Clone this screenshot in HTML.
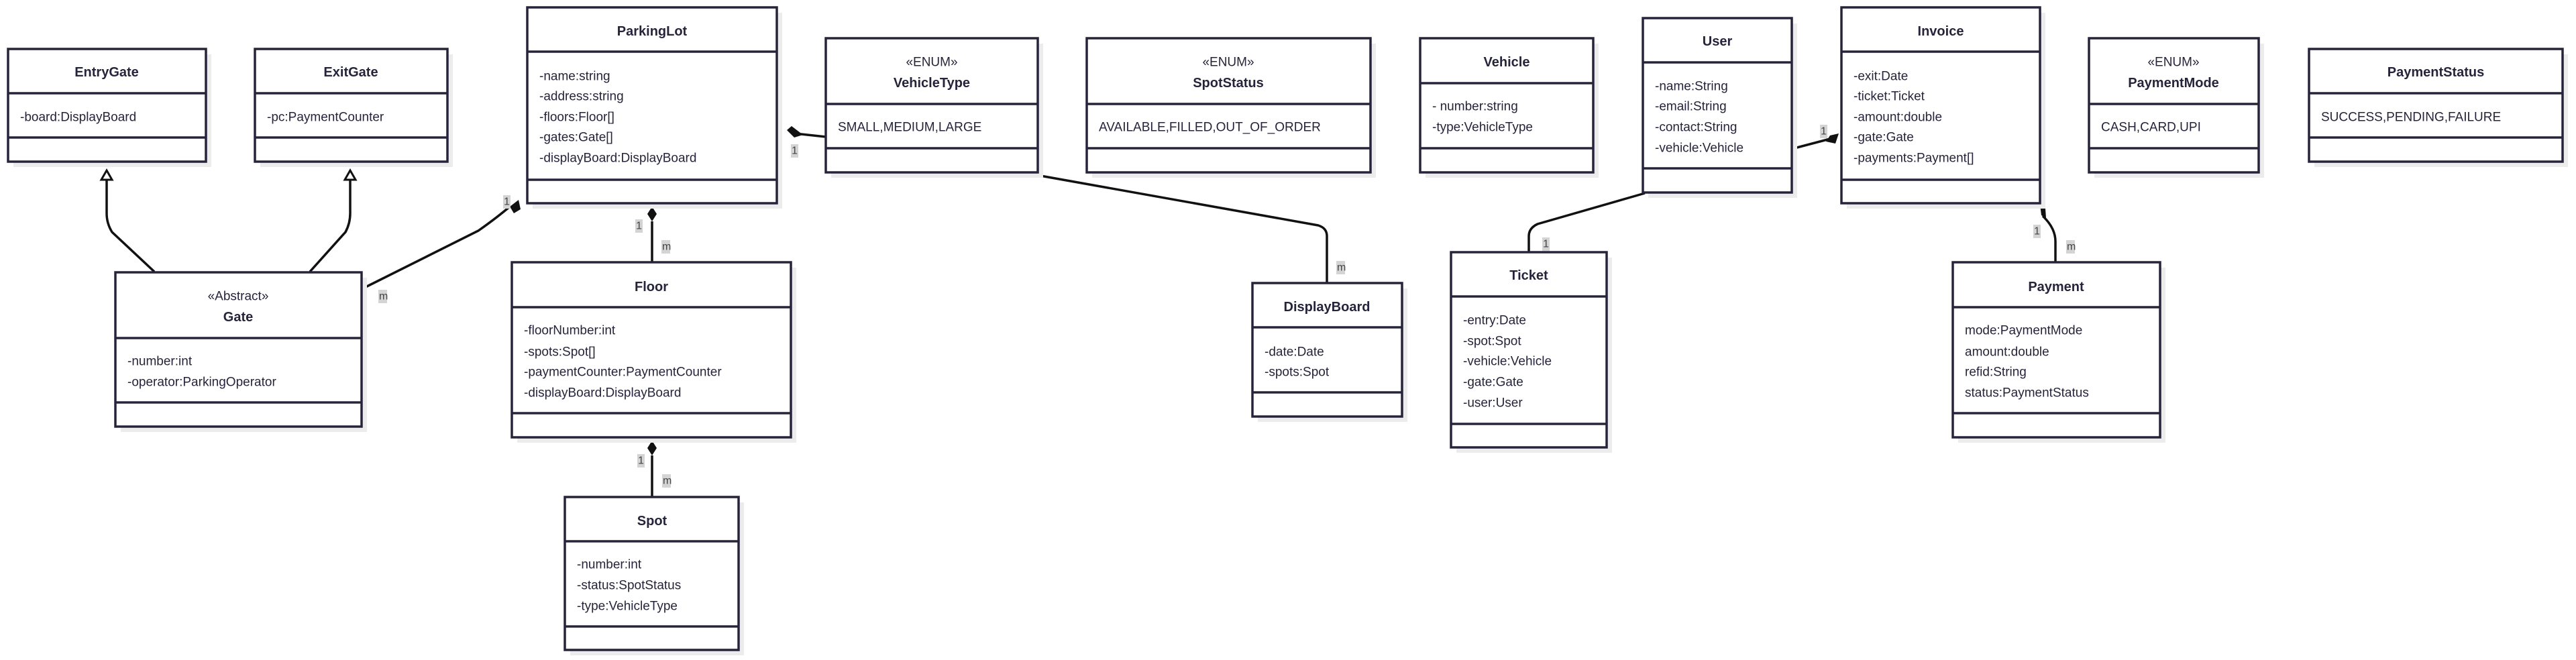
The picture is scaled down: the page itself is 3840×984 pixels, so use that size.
<!DOCTYPE html>
<html><head><meta charset="utf-8"><style>
html,body{margin:0;padding:0;background:#fff;}
svg{display:block;}
text{font-family:"Liberation Sans",sans-serif;fill:#26243a;dominant-baseline:central;}
.t{font-weight:bold;font-size:20px;text-anchor:middle;}
.s{font-size:19px;text-anchor:middle;}
.a{font-size:19px;}
.l{font-size:16px;fill:#444;}
.sh{fill:#ececec;}
.b{fill:#fff;stroke:#26243a;stroke-width:3.5;}
.d{stroke:#26243a;stroke-width:3.5;}
.c{fill:none;stroke:#111;stroke-width:3.5;}
.lb{fill:#d4d4d4;}
</style></head><body>
<svg width="3840" height="984" viewBox="0 0 3840 984" xmlns="http://www.w3.org/2000/svg">
<!-- connectors -->
<g class="c">
<path d="M159,267 V318 Q159,333 167,346 L230,405"/>
<path d="M522,267 V318 Q522,333 515,346 L462,405"/>
<path d="M539,431 L713,344 Q740,325 760,308"/>
<path d="M972,330 V391"/>
<path d="M972,679 V741"/>
<path d="M1185,199 L1231,204"/>
<path d="M1523,257 L1965,336 Q1978,340 1978,352 V422"/>
<path d="M2452,288 L2292,334 Q2279,340 2279,352 V376"/>
<path d="M2671,222 L2728,207"/>
<path d="M3045,322 Q3064,340 3064,360 V391"/>
</g>
<!-- arrowheads -->
<polygon points="159,254 151,268 167,268" fill="#fff" stroke="#111" stroke-width="3"/>
<polygon points="522,254 514,268 530,268" fill="#fff" stroke="#111" stroke-width="3"/>
<polygon points="773,298 776,312 766,318 760,308" fill="#111"/>
<polygon points="972,308 979,319 972,330 965,319" fill="#111"/>
<polygon points="972,657 979,668 972,679 965,668" fill="#111"/>
<polygon points="1173,194 1180,188 1197,201 1184,205" fill="#111"/>
<polygon points="2741,199 2736,214 2722,211 2728,202" fill="#111"/>
<polygon points="3041,305 3049,311 3050,325 3043,321" fill="#111"/>
<!-- labels -->
<g>
<rect class="lb" x="750" y="291" width="11" height="20"/><text class="l" x="751" y="301">1</text>
<rect class="lb" x="564" y="432" width="13" height="20"/><text class="l" x="565" y="442">m</text>
<rect class="lb" x="947" y="327" width="11" height="20"/><text class="l" x="948" y="337">1</text>
<rect class="lb" x="986" y="358" width="13" height="20"/><text class="l" x="987" y="368">m</text>
<rect class="lb" x="950" y="677" width="11" height="20"/><text class="l" x="951" y="687">1</text>
<rect class="lb" x="987" y="707" width="13" height="20"/><text class="l" x="988" y="717">m</text>
<rect class="lb" x="1179" y="215" width="11" height="20"/><text class="l" x="1180" y="225">1</text>
<rect class="lb" x="1992" y="389" width="13" height="20"/><text class="l" x="1993" y="399">m</text>
<rect class="lb" x="2299" y="354" width="11" height="20"/><text class="l" x="2300" y="364">1</text>
<rect class="lb" x="2713" y="186" width="11" height="20"/><text class="l" x="2714" y="196">1</text>
<rect class="lb" x="3031" y="335" width="11" height="20"/><text class="l" x="3032" y="345">1</text>
<rect class="lb" x="3080" y="358" width="13" height="20"/><text class="l" x="3081" y="368">m</text>
</g>
<!-- boxes: shadow, box, dividers -->
<g>
<rect class="sh" x="20" y="81" width="295" height="168"/><rect class="b" x="12" y="73" width="295" height="168"/>
<line class="d" x1="12" y1="139" x2="307" y2="139"/><line class="d" x1="12" y1="205" x2="307" y2="205"/>
<text class="t" x="159" y="108">EntryGate</text><text class="a" x="30" y="175">-board:DisplayBoard</text>

<rect class="sh" x="388" y="81" width="287" height="168"/><rect class="b" x="380" y="73" width="287" height="168"/>
<line class="d" x1="380" y1="139" x2="667" y2="139"/><line class="d" x1="380" y1="205" x2="667" y2="205"/>
<text class="t" x="523" y="108">ExitGate</text><text class="a" x="398" y="175">-pc:PaymentCounter</text>

<rect class="sh" x="794" y="19" width="372" height="292"/><rect class="b" x="786" y="11" width="372" height="292"/>
<line class="d" x1="786" y1="77" x2="1158" y2="77"/><line class="d" x1="786" y1="268" x2="1158" y2="268"/>
<text class="t" x="972" y="47">ParkingLot</text>
<text class="a" x="804" y="114">-name:string</text><text class="a" x="804" y="144">-address:string</text><text class="a" x="804" y="175">-floors:Floor[]</text><text class="a" x="804" y="205">-gates:Gate[]</text><text class="a" x="804" y="236">-displayBoard:DisplayBoard</text>

<rect class="sh" x="180" y="414" width="367" height="230"/><rect class="b" x="172" y="406" width="367" height="230"/>
<line class="d" x1="172" y1="504" x2="539" y2="504"/><line class="d" x1="172" y1="600" x2="539" y2="600"/>
<text class="s" x="355" y="442">«Abstract»</text><text class="t" x="355" y="473">Gate</text>
<text class="a" x="190" y="539">-number:int</text><text class="a" x="190" y="570">-operator:ParkingOperator</text>

<rect class="sh" x="771" y="399" width="416" height="261"/><rect class="b" x="763" y="391" width="416" height="261"/>
<line class="d" x1="763" y1="458" x2="1179" y2="458"/><line class="d" x1="763" y1="616" x2="1179" y2="616"/>
<text class="t" x="971" y="428">Floor</text>
<text class="a" x="781" y="493">-floorNumber:int</text><text class="a" x="781" y="525">-spots:Spot[]</text><text class="a" x="781" y="555">-paymentCounter:PaymentCounter</text><text class="a" x="781" y="586">-displayBoard:DisplayBoard</text>

<rect class="sh" x="850" y="749" width="259" height="228"/><rect class="b" x="842" y="741" width="259" height="228"/>
<line class="d" x1="842" y1="807" x2="1101" y2="807"/><line class="d" x1="842" y1="934" x2="1101" y2="934"/>
<text class="t" x="972" y="777">Spot</text>
<text class="a" x="860" y="842">-number:int</text><text class="a" x="860" y="873">-status:SpotStatus</text><text class="a" x="860" y="904">-type:VehicleType</text>

<rect class="sh" x="1239" y="65" width="316" height="200"/><rect class="b" x="1231" y="57" width="316" height="200"/>
<line class="d" x1="1231" y1="155" x2="1547" y2="155"/><line class="d" x1="1231" y1="221" x2="1547" y2="221"/>
<text class="s" x="1389" y="93">«ENUM»</text><text class="t" x="1389" y="124">VehicleType</text>
<text class="a" x="1249" y="190">SMALL,MEDIUM,LARGE</text>

<rect class="sh" x="1628" y="65" width="423" height="200"/><rect class="b" x="1620" y="57" width="423" height="200"/>
<line class="d" x1="1620" y1="155" x2="2043" y2="155"/><line class="d" x1="1620" y1="221" x2="2043" y2="221"/>
<text class="s" x="1831" y="93">«ENUM»</text><text class="t" x="1831" y="124">SpotStatus</text>
<text class="a" x="1638" y="190">AVAILABLE,FILLED,OUT_OF_ORDER</text>

<rect class="sh" x="2125" y="65" width="258" height="200"/><rect class="b" x="2117" y="57" width="258" height="200"/>
<line class="d" x1="2117" y1="124" x2="2375" y2="124"/><line class="d" x1="2117" y1="221" x2="2375" y2="221"/>
<text class="t" x="2246" y="93">Vehicle</text>
<text class="a" x="2135" y="159">- number:string</text><text class="a" x="2135" y="190">-type:VehicleType</text>

<rect class="sh" x="2457" y="35" width="222" height="260"/><rect class="b" x="2449" y="27" width="222" height="260"/>
<line class="d" x1="2449" y1="93" x2="2671" y2="93"/><line class="d" x1="2449" y1="251" x2="2671" y2="251"/>
<text class="t" x="2560" y="62">User</text>
<text class="a" x="2467" y="129">-name:String</text><text class="a" x="2467" y="159">-email:String</text><text class="a" x="2467" y="190">-contact:String</text><text class="a" x="2467" y="221">-vehicle:Vehicle</text>

<rect class="sh" x="1875" y="430" width="223" height="199"/><rect class="b" x="1867" y="422" width="223" height="199"/>
<line class="d" x1="1867" y1="488" x2="2090" y2="488"/><line class="d" x1="1867" y1="585" x2="2090" y2="585"/>
<text class="t" x="1978" y="458">DisplayBoard</text>
<text class="a" x="1885" y="525">-date:Date</text><text class="a" x="1885" y="555">-spots:Spot</text>

<rect class="sh" x="2171" y="384" width="232" height="291"/><rect class="b" x="2163" y="376" width="232" height="291"/>
<line class="d" x1="2163" y1="442" x2="2395" y2="442"/><line class="d" x1="2163" y1="632" x2="2395" y2="632"/>
<text class="t" x="2279" y="411">Ticket</text>
<text class="a" x="2181" y="478">-entry:Date</text><text class="a" x="2181" y="509">-spot:Spot</text><text class="a" x="2181" y="539">-vehicle:Vehicle</text><text class="a" x="2181" y="570">-gate:Gate</text><text class="a" x="2181" y="601">-user:User</text>

<rect class="sh" x="2753" y="19" width="296" height="292"/><rect class="b" x="2745" y="11" width="296" height="292"/>
<line class="d" x1="2745" y1="77" x2="3041" y2="77"/><line class="d" x1="2745" y1="268" x2="3041" y2="268"/>
<text class="t" x="2893" y="47">Invoice</text>
<text class="a" x="2763" y="114">-exit:Date</text><text class="a" x="2763" y="144">-ticket:Ticket</text><text class="a" x="2763" y="175">-amount:double</text><text class="a" x="2763" y="205">-gate:Gate</text><text class="a" x="2763" y="236">-payments:Payment[]</text>

<rect class="sh" x="3122" y="65" width="253" height="200"/><rect class="b" x="3114" y="57" width="253" height="200"/>
<line class="d" x1="3114" y1="155" x2="3367" y2="155"/><line class="d" x1="3114" y1="221" x2="3367" y2="221"/>
<text class="s" x="3240" y="93">«ENUM»</text><text class="t" x="3240" y="124">PaymentMode</text>
<text class="a" x="3132" y="190">CASH,CARD,UPI</text>

<rect class="sh" x="3450" y="81" width="378" height="168"/><rect class="b" x="3442" y="73" width="378" height="168"/>
<line class="d" x1="3442" y1="139" x2="3820" y2="139"/><line class="d" x1="3442" y1="205" x2="3820" y2="205"/>
<text class="t" x="3631" y="108">PaymentStatus</text>
<text class="a" x="3460" y="175">SUCCESS,PENDING,FAILURE</text>

<rect class="sh" x="2919" y="399" width="309" height="261"/><rect class="b" x="2911" y="391" width="309" height="261"/>
<line class="d" x1="2911" y1="458" x2="3220" y2="458"/><line class="d" x1="2911" y1="616" x2="3220" y2="616"/>
<text class="t" x="3065" y="428">Payment</text>
<text class="a" x="2929" y="493">mode:PaymentMode</text><text class="a" x="2929" y="525">amount:double</text><text class="a" x="2929" y="555">refid:String</text><text class="a" x="2929" y="586">status:PaymentStatus</text>
</g>
</svg>
</body></html>
